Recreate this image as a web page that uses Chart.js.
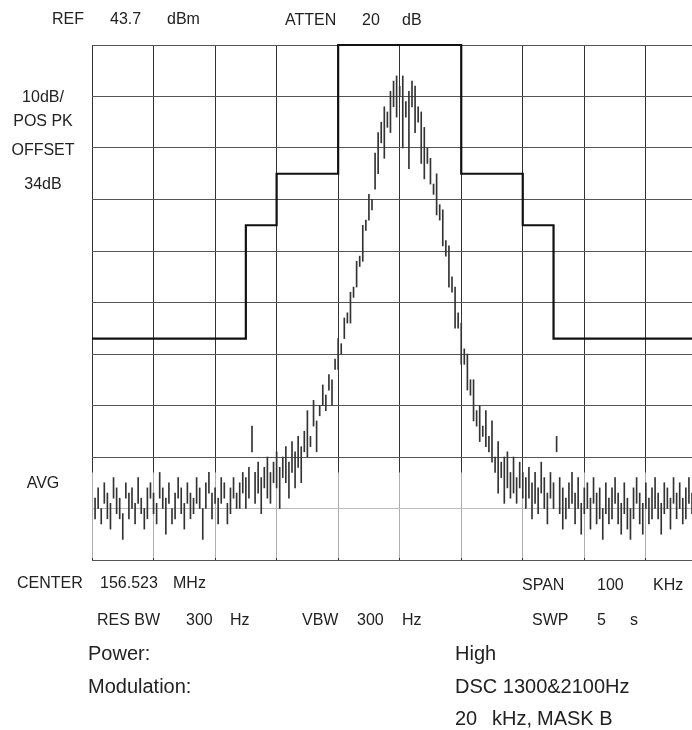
<!DOCTYPE html>
<html>
<head>
<meta charset="utf-8">
<script src="https://cdn.jsdelivr.net/npm/chart.js@4.4.1/dist/chart.umd.min.js"></script>
<style>
  html, body { margin: 0; padding: 0; background: #fff; }
  #wrap { position: relative; width: 692px; height: 730px; overflow: hidden; }
  #myChart { position: absolute; left: 0; top: 0; }
  .lb { position: absolute; white-space: nowrap; color: #222; transform: translateY(-50%);
        font-family: "Liberation Sans", Arial, sans-serif; font-size: 16px; }
  .big { font-size: 20px; }
  .mid { text-align: center; width: 86px; }
</style>
</head>
<body>
<div id="wrap">
  <canvas id="myChart" width="692" height="730"></canvas>

  <span class="lb" style="left:52px;top:19px">REF</span>
  <span class="lb" style="left:110px;top:19px">43.7</span>
  <span class="lb" style="left:167px;top:19px">dBm</span>
  <span class="lb" style="left:285px;top:20px">ATTEN</span>
  <span class="lb" style="left:362px;top:20px">20</span>
  <span class="lb" style="left:402px;top:20px">dB</span>

  <span class="lb mid" style="left:0px;top:97px">10dB/</span>
  <span class="lb mid" style="left:0px;top:121px">POS PK</span>
  <span class="lb mid" style="left:0px;top:150px">OFFSET</span>
  <span class="lb mid" style="left:0px;top:184px">34dB</span>
  <span class="lb mid" style="left:0px;top:483px">AVG</span>

  <span class="lb" style="left:17px;top:583px">CENTER</span>
  <span class="lb" style="left:100px;top:583px">156.523</span>
  <span class="lb" style="left:173px;top:583px">MHz</span>
  <span class="lb" style="left:522px;top:585px">SPAN</span>
  <span class="lb" style="left:597px;top:585px">100</span>
  <span class="lb" style="left:653px;top:585px">KHz</span>

  <span class="lb" style="left:97px;top:620px">RES BW</span>
  <span class="lb" style="left:186px;top:620px">300</span>
  <span class="lb" style="left:230px;top:620px">Hz</span>
  <span class="lb" style="left:302px;top:620px">VBW</span>
  <span class="lb" style="left:357px;top:620px">300</span>
  <span class="lb" style="left:402px;top:620px">Hz</span>
  <span class="lb" style="left:532px;top:620px">SWP</span>
  <span class="lb" style="left:597px;top:620px">5</span>
  <span class="lb" style="left:630px;top:620px">s</span>

  <span class="lb big" style="left:88px;top:653px">Power:</span>
  <span class="lb big" style="left:455px;top:653px">High</span>
  <span class="lb big" style="left:88px;top:686px">Modulation:</span>
  <span class="lb big" style="left:455px;top:686px">DSC 1300&amp;2100Hz</span>
  <span class="lb big" style="left:455px;top:718px">20</span>
  <span class="lb big" style="left:492px;top:718px">kHz,</span>
  <span class="lb big" style="left:537px;top:718px">MASK B</span>
</div>

<script>
// kHz offset from centre, dB relative to REF
var X_TICKS = [-50, -40, -30, -20, -10, 0, 10, 20, 30, 40];
var Y_TICKS = [0, -10, -20, -30, -40, -50, -60, -70, -80, -90, -100];

// spectrum mask (MASK B)
var MASK_FREQ  = [-50, -25, -25, -20, -20, -10, -10, 10, 10, 20, 20, 25, 25, 47.5];
var MASK_LEVEL = [-57, -57, -35, -35, -25, -25, 0, 0, -25, -25, -35, -35, -57, -57];

// trace: one bin every 0.5 kHz starting at -49.5 kHz, top and bottom of each peak-detect tick
var TRACE_START = -49.5, TRACE_STEP = 0.5;
var TRACE_HI = [
  -88,-86,-90,-85,-87,-89,-84,-86,-88,-91, -85,-87,-86,-89,-84,-88,-90,-86,-85,-87,
  -89,-83,-86,-88,-85,-90,-87,-84,-86,-89, -85,-87,-88,-84,-86,-90,-85,-83,-87,-86,
  -88,-84,-85,-89,-86,-84,-87,-85,-83,
  -84,-82,-74,-83,-81,-84,-82,-80,-83,-81, -79,-82,-80,-78,-81,-77,-79,-76,-78,
  -75,-71,-76,-69,-73,-70,-66,-68,-64,-65, -61,-57,-58,-53,-52,-48,-47,-42,-41,-35,
  -34,-29,-30,-21,-17,-15,-12,-13,-9,-7, -6,-8,-6,-11,-9,-7,-8,-12,-13,-16,
  -20,-22,-27,-25,-31,-32,-38,-39,-45,-47, -52,-54,-59,-60,-65,-65,-71,-70,-74,-71,
  -76,-73,-80,-77,-81,-80,-79,-83,-80,-84, -81,-83,
  -84,-82,-85,-83,-86,-81,-84,-87,-83,-85, -76,-84,-86,-88,-85,-83,-87,-84,-89,-86,
  -85,-88,-84,-87,-86,-90,-85,-88,-86,-84, -87,-89,-85,-88,-90,-86,-84,-87,-89,-85,
  -88,-86,-84,-87,-89,-85,-86,-88,-84,-87, -85,-88,-86,-84,-87
];
var TRACE_LO = [
  -92,-90,-93,-89,-92,-94,-88,-91,-92,-96, -88,-92,-90,-93,-89,-91,-94,-92,-88,-91,
  -93,-88,-90,-95,-89,-93,-92,-88,-91,-94, -89,-92,-91,-89,-90,-96,-90,-87,-92,-89,
  -93,-89,-88,-93,-91,-88,-90,-90,-87,
  -90,-88,-79,-89,-87,-91,-86,-88,-89,-85, -86,-90,-84,-85,-88,-83,-86,-82,-85,
  -79,-80,-78,-74,-79,-72,-70,-71,-67,-70, -63,-63,-60,-57,-54,-54,-49,-47,-43,-42,
  -36,-34,-32,-28,-25,-19,-22,-16,-17,-12, -14,-10,-20,-14,-24,-12,-17,-15,-23,-26,
  -23,-27,-29,-33,-34,-39,-41,-47,-48,-55, -55,-62,-62,-67,-68,-73,-74,-77,-76,-78,
  -79,-81,-83,-87,-84,-89,-86,-88,-87,-89, -86,-88,
  -90,-88,-92,-89,-91,-87,-90,-93,-88,-90, -79,-91,-94,-92,-90,-89,-93,-90,-95,-91,
  -90,-94,-89,-93,-92,-96,-91,-93,-92,-89, -93,-95,-91,-94,-96,-92,-89,-93,-95,-90,
  -93,-92,-90,-92,-95,-91,-90,-94,-89,-92, -90,-93,-92,-89,-91
];

var traceData = TRACE_HI.map(function (hi, i) {
  return { x: TRACE_START + i * TRACE_STEP, y: [TRACE_LO[i], hi] };
});
var maskData = MASK_FREQ.map(function (f, i) {
  return { x: f, y: MASK_LEVEL[i] };
});

// the screen's lower rows are faded on the print, wash them out a bit
var fadeLow = {
  id: 'fadeLow',
  beforeDatasetsDraw: function (c) {
    var a = c.chartArea, y = c.scales.y;
    var top = y.getPixelForValue(-83);
    c.ctx.save();
    c.ctx.fillStyle = 'rgba(255,255,255,0.6)';
    c.ctx.fillRect(a.left - 1, top, a.right - a.left + 2, a.bottom - top - 2);
    c.ctx.restore();
  }
};

var ctx = document.getElementById('myChart').getContext('2d');
var chart = new Chart(ctx, {
  type: 'bar',
  data: {
    datasets: [{
      type: 'line',
      label: 'mask',
      data: maskData,
      borderColor: '#111',
      borderWidth: 2.2,
      pointRadius: 0,
      fill: false,
      clip: 4
    }, {
      type: 'bar',
      label: 'trace',
      data: traceData,
      backgroundColor: '#333',
      borderWidth: 0,
      barThickness: 1
    }]
  },
  options: {
    responsive: false,
    animation: false,
    layout: { padding: { left: 92, top: 45, right: 0, bottom: 170 } },
    plugins: { legend: { display: false }, tooltip: { enabled: false } },
    scales: {
      x: {
        type: 'linear',
        min: -50,
        max: 47.5,
        offset: false,
        afterBuildTicks: function (s) { s.ticks = X_TICKS.map(function (v) { return { value: v }; }); },
        ticks: { display: false },
        grid: { color: '#333', lineWidth: 1, drawTicks: false, offset: false },
        border: { display: false }
      },
      y: {
        type: 'linear',
        min: -100,
        max: 0,
        afterBuildTicks: function (s) { s.ticks = Y_TICKS.map(function (v) { return { value: v }; }); },
        ticks: { display: false },
        grid: { color: '#555', lineWidth: 1, drawTicks: false },
        border: { display: false }
      }
    }
  },
  plugins: [fadeLow]
});
</script>
</body>
</html>
